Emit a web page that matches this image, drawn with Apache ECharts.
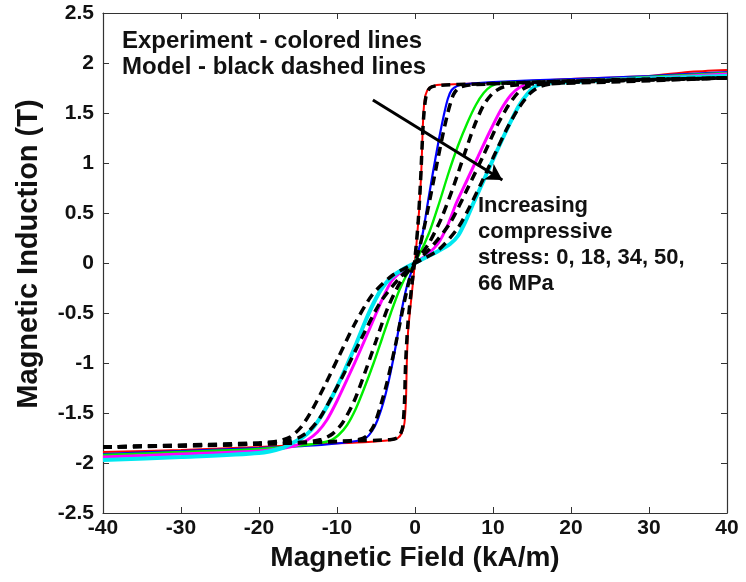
<!DOCTYPE html>
<html><head><meta charset="utf-8">
<script src="https://cdn.jsdelivr.net/npm/echarts@6/dist/echarts.min.js"></script>
<style>html,body{margin:0;padding:0;background:#fff}#c{width:746px;height:582px}</style>
</head><body><div id="c"></div>
<script>
// ---- Experimental curves (colored) ----
const expRedH = [-40,-30,-20,-12,-6,-3,-2.2,-1.7,-1.35,-1.15,-1.05,-0.9,-0.6,-0.2,0.2,0.55,0.8,0.95,1.1,1.35,1.8,2.8,6,12,20,30,35,40];
const expRedB = [-1.89,-1.87,-1.84,-1.81,-1.79,-1.77,-1.75,-1.7,-1.6,-1.35,-1.0,-0.7,-0.45,-0.15,0.2,0.55,0.9,1.25,1.52,1.68,1.75,1.78,1.79,1.81,1.84,1.87,1.91,1.93];

const expBlueH = [-40,-30,-20,-12,-7.5,-6.3,-5.5,-4.8,-4.0,-3.2,-2.4,-1.7,-1.0,-0.3,0.3,1.0,1.7,2.4,3.1,3.7,4.2,4.7,5.4,6.5,10,20,30,40];
const expBlueB = [-1.91,-1.88,-1.85,-1.82,-1.78,-1.75,-1.68,-1.57,-1.38,-1.12,-0.8,-0.47,-0.22,-0.05,0.08,0.3,0.63,0.95,1.25,1.48,1.64,1.73,1.77,1.79,1.81,1.84,1.87,1.91];

const expGreenH = [-40,-30,-20,-14,-11,-9.8,-8.7,-7.6,-6.5,-5.3,-4.2,-3.1,-2,-0.8,0.5,1.8,3.1,4.3,5.5,6.7,7.8,8.8,9.8,11,15,25,40];
const expGreenB = [-1.92,-1.89,-1.86,-1.82,-1.78,-1.72,-1.62,-1.46,-1.25,-1.0,-0.75,-0.5,-0.27,-0.08,0.08,0.3,0.6,0.9,1.17,1.4,1.58,1.7,1.77,1.8,1.81,1.84,1.9];

const expMagentaH = [-40,-30,-20,-15.5,-13.8,-12.5,-11.3,-10,-8.5,-7,-5.5,-4.3,-3,-1.5,0,1.5,3,4.2,5.3,6.5,8,9.5,11,12.3,13.5,15,20,30,40];
const expMagentaB = [-1.94,-1.91,-1.88,-1.83,-1.77,-1.69,-1.57,-1.38,-1.13,-0.87,-0.6,-0.38,-0.18,-0.07,0,0.08,0.2,0.38,0.6,0.8,1.05,1.3,1.53,1.68,1.76,1.8,1.82,1.85,1.89];

const expCyanH = [-40,-30,-20,-17,-15.7,-14.5,-13.3,-12,-10.5,-9,-7.5,-6.3,-5.3,-4.3,-3,-1.5,0,1.5,3,4.5,5.5,6.5,7.5,9,10.5,12,13.3,14.5,15.5,17,20,28,40];
const expCyanB = [-1.97,-1.94,-1.9,-1.85,-1.8,-1.75,-1.67,-1.53,-1.32,-1.07,-0.8,-0.57,-0.4,-0.26,-0.14,-0.06,0,0.06,0.12,0.19,0.27,0.42,0.6,0.86,1.12,1.37,1.57,1.7,1.77,1.8,1.81,1.84,1.87];

// ---- Model curves (black dashed) ----
const modRedH = [-40,-20,-8,-3,-2.1,-1.6,-1.35,-1.2,-0.9,-0.4,0,0.4,0.7,0.9,1.1,1.4,1.9,3,8,20,40];
const modRedB = [-1.84,-1.81,-1.78,-1.765,-1.74,-1.65,-1.4,-1.0,-0.6,-0.22,0.05,0.4,0.8,1.15,1.45,1.66,1.75,1.775,1.79,1.82,1.85];

const modBlueH = [-40,-30,-20,-10,-7.2,-6.2,-5.3,-4.5,-3.6,-2.5,-1.4,-0.5,0.4,1.3,2.4,3.4,4.2,4.9,5.6,7,20,30,40];
const modBlueB = [-1.84,-1.83,-1.81,-1.785,-1.765,-1.73,-1.63,-1.45,-1.2,-0.82,-0.4,-0.1,0.1,0.4,0.83,1.22,1.5,1.68,1.75,1.78,1.82,1.84,1.85];

const modGreenH = [-40,-20,-14,-12,-10.6,-9.3,-7.8,-6.3,-5,-3.5,-1.8,0,1.8,3.4,5,6.3,7.6,8.8,10,11.3,13,20,40];
const modGreenB = [-1.84,-1.81,-1.79,-1.765,-1.71,-1.6,-1.38,-1.07,-0.78,-0.45,-0.18,0,0.2,0.45,0.78,1.08,1.37,1.58,1.7,1.76,1.78,1.81,1.85];

const modMagentaH = [-40,-20,-16.5,-15,-13.6,-12.2,-10.6,-8.8,-6.9,-4.5,-2,0,2,4.5,6.9,8.8,10.5,12,13.3,14.6,16.5,25,40];
const modMagentaB = [-1.84,-1.8,-1.78,-1.75,-1.68,-1.55,-1.33,-1.06,-0.76,-0.4,-0.15,0,0.15,0.4,0.77,1.08,1.37,1.58,1.71,1.77,1.79,1.81,1.85];

const modCyanH = [-40,-25,-19.5,-17.5,-16,-14.6,-13.2,-11.6,-9.8,-7.8,-5.5,-3,0,3,5.5,7,8.5,10,11.7,13.3,14.8,16.2,18.5,25,40];
const modCyanB = [-1.84,-1.82,-1.8,-1.78,-1.74,-1.64,-1.47,-1.23,-0.94,-0.62,-0.32,-0.13,0,0.13,0.35,0.56,0.8,1.05,1.33,1.55,1.7,1.77,1.8,1.82,1.85];

// arrow (data coordinates) and texts
const arrowFrom = [-5.4, 1.63];
const arrowTo = [11.2, 0.83];
const legendText = 'Experiment - colored lines\nModel - black dashed lines';
const stressText = 'Increasing\ncompressive\nstress: 0, 18, 34, 50,\n66 MPa';
const xTitle = 'Magnetic Field (kA/m)';
const yTitle = 'Magnetic Induction (T)';

const zip = (h, b) => h.map((v, i) => [v, b[i]]);
const FONT = "'Liberation Sans', Arial, Helvetica, sans-serif";

const expSeries = [
  {d: zip(expRedH, expRedB), c: '#ff0000', w: 2},
  {d: zip(expBlueH, expBlueB), c: '#0000ff', w: 2.2},
  {d: zip(expGreenH, expGreenB), c: '#00ee00', w: 2.4},
  {d: zip(expMagentaH, expMagentaB), c: '#ff00ff', w: 3},
  {d: zip(expCyanH, expCyanB), c: '#00e8f0', w: 4}
];
const modSeries = [
  zip(modRedH, modRedB), zip(modBlueH, modBlueB), zip(modGreenH, modGreenB),
  zip(modMagentaH, modMagentaB), zip(modCyanH, modCyanB)
];

const series = [];
expSeries.forEach(s => series.push({
  type: 'line', data: s.d, showSymbol: false, symbol: 'none',
  smooth: 0.25,
  lineStyle: {color: s.c, width: s.w}, z: 2
}));
modSeries.forEach((d, i) => {
  const s = {
    type: 'line', data: d, showSymbol: false, symbol: 'none',
    smooth: 0.25,
    lineStyle: {color: '#000', width: 3.5, type: [9, 6]}, z: 3
  };
  if (i === modSeries.length - 1) {
    s.markLine = {
      silent: true, symbol: ['none', 'arrow'], symbolSize: [14, 16],
      label: {show: false},
      lineStyle: {color: '#000', width: 3, type: 'solid'},
      data: [[{coord: arrowFrom}, {coord: arrowTo}]]
    };
  }
  series.push(s);
});

const axisCommon = {
  type: 'value',
  axisLine: {show: true, onZero: false, lineStyle: {color: '#333', width: 1.2}},
  axisTick: {show: true, inside: true, length: 6, lineStyle: {color: '#333'}},
  splitLine: {show: false}
};
const labelStyle = {fontSize: 21, fontWeight: 'bold', color: '#111', fontFamily: FONT};

const chart = echarts.init(document.getElementById('c'), null, {renderer: 'canvas'});
chart.setOption({
  animation: false,
  backgroundColor: '#fff',
  grid: {left: 103, right: 19, top: 13, bottom: 69, containLabel: false},
  xAxis: [
    Object.assign({}, axisCommon, {
      min: -40, max: 40, interval: 10, position: 'bottom',
      axisLabel: Object.assign({margin: 5}, labelStyle),
      name: xTitle, nameLocation: 'middle', nameGap: 31,
      nameTextStyle: {fontSize: 28, fontWeight: 'bold', color: '#111', fontFamily: FONT}
    }),
    Object.assign({}, axisCommon, {
      min: -40, max: 40, interval: 10, position: 'top', axisLabel: {show: false}
    })
  ],
  yAxis: [
    Object.assign({}, axisCommon, {
      min: -2.5, max: 2.5, interval: 0.5, position: 'left',
      axisLabel: Object.assign({margin: 9}, labelStyle),
      name: yTitle, nameLocation: 'middle', nameGap: 60,
      nameTextStyle: {fontSize: 29, fontWeight: 'bold', color: '#111', fontFamily: FONT,
                      padding: [0, 0, 0, 18]}
    }),
    Object.assign({}, axisCommon, {
      min: -2.5, max: 2.5, interval: 0.5, position: 'right', axisLabel: {show: false}
    })
  ],
  series: series,
  graphic: [
    {type: 'text', left: 122, top: 28, z: 10,
     style: {text: legendText, fill: '#111', font: 'bold 24px ' + FONT, lineHeight: 26}},
    {type: 'text', left: 478, top: 193, z: 10,
     style: {text: stressText, fill: '#111', font: 'bold 22px ' + FONT, lineHeight: 26}}
  ]
});
</script>
</body></html>
